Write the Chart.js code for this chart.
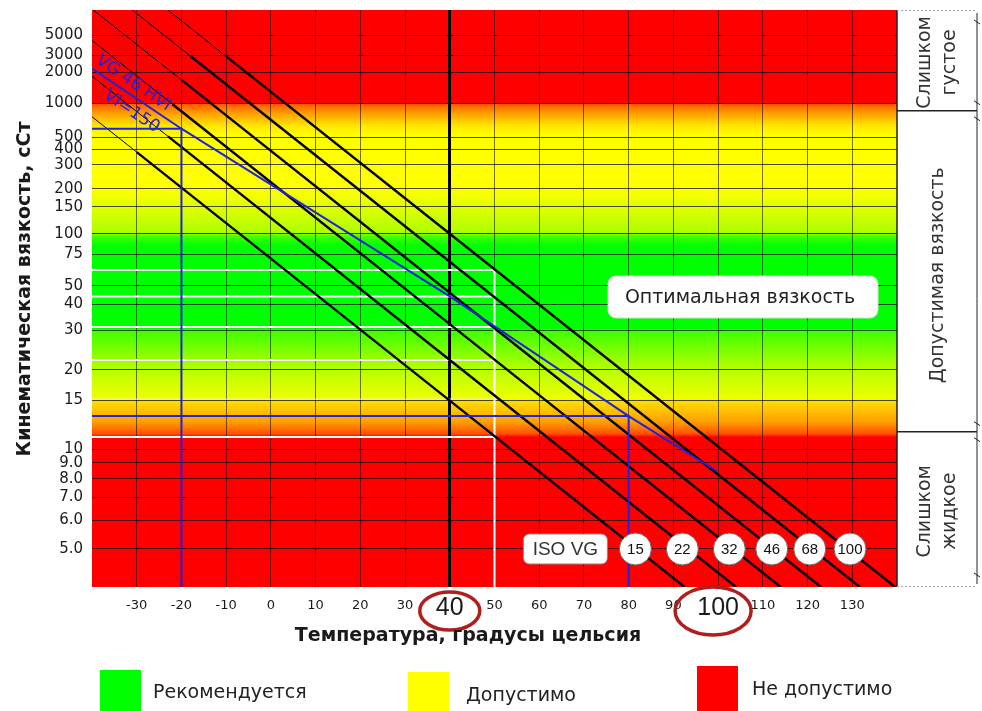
<!DOCTYPE html>
<html>
<head>
<meta charset="utf-8">
<script src="https://cdn.jsdelivr.net/npm/chart.js@4.4.1/dist/chart.umd.min.js"></script>
<style>
  html, body { margin: 0; padding: 0; background: #fff; }
  #c { display: block; }
</style>
</head>
<body>
<canvas id="c" width="982" height="711"></canvas>
<script>
// ---- Temperature axis, °C ----
const tempMin = -40;
const tempMax = 140;
const tempStep = 10;
const bigTempTicks = [40, 100];

// ---- Viscosity axis, cSt (Walther scale) ----
const viscMin = 4;
const viscMax = 10000;
const viscTicks = [5, 6, 7, 8, 9, 10, 15, 20, 30, 40, 50, 75, 100, 150, 200, 300, 400, 500, 1000, 2000, 3000, 5000];

// ---- ISO VG grade lines: [temperature, viscosity] — start, change to bold, 40 °C, end ----
const isoGrades = ['15', '22', '32', '46', '68', '100'];
const vg15 = [[-40, 750], [-30, 378], [40, 15], [92.5, 4]];
const vg22 = [[-40, 1820], [-23, 508], [40, 22], [104, 4]];
const vg32 = [[-40, 4370], [-22, 975], [40, 32], [114, 4]];
const vg46 = [[-39.7, 10000], [-20, 1670], [40, 46], [123, 4]];
const vg68 = [[-31, 10000], [-18, 2950], [40, 68], [131.7, 4]];
const vg100 = [[-23, 10000], [-10, 2920], [40, 100], [139.6, 4]];
// where each grade's label sits (temperature at 5 cSt)
const gradeLabelTemps = [81.5, 92, 102.5, 112, 120.5, 129.5];
const gradeLabelVisc = 5;

// ---- VG 46 HVI oil, VI = 150 ----
const hviOil = [[-40, 2180], [-20, 590], [40, 44], [80, 13.1], [100, 8.4]];
const hviColdTemp = -20, hviColdVisc = 590;
const hviHotTemp = 80, hviHotVisc = 13.1;

// ---- Viscosity of each grade at 50 °C ----
const checkTemp = 50;
const visc50 = [61, 44, 31, 22, 15.2, 11];

// ---- Viscosity zones ----
const zoneStops = [
  [10000, '#ff0000'], [1000, '#ff0000'], [980, '#ff5a00'], [800, '#ffa000'], [620, '#ffe800'], [520, '#ffff00'],
  [200, '#ffff00'], [150, '#e2ff00'], [101, '#acff00'], [97, '#48ff00'], [85, '#00ff00'],
  [30.5, '#00ff00'], [30, '#3cff00'], [20, '#b8ff00'], [15.2, '#f0ff00'], [15, '#ffe000'],
  [12.5, '#ffa000'], [11.3, '#ff5000'], [11, '#ff0000'], [4, '#ff0000']
];
const panelBounds = [850, 11.5];
const panelTexts = [['Слишком', 'густое'], ['Допустимая вязкость'], ['Слишком', 'жидкое']];
const legendItems = [
  ['Рекомендуется', '#00ff00'],
  ['Допустимо', '#ffff00'],
  ['Не допустимо', '#ff0000']
];

// ---- Walther transform: W = log10(log10(v + 0.7)) ----
const walther = v => Math.log10(Math.log10(v + 0.7));
const waltherInv = w => Math.pow(10, Math.pow(10, w)) - 0.7;

class WaltherScale extends Chart.Scale {
  constructor(cfg) {
    super(cfg);
    this._startW = 0;
    this._rangeW = 1;
  }
  parse(raw, index) {
    const v = Chart.LinearScale.prototype.parse.apply(this, [raw, index]);
    return isFinite(v) && v > 0 ? v : null;
  }
  determineDataLimits() {
    this.min = this.options.min;
    this.max = this.options.max;
  }
  buildTicks() {
    return viscTicks.map(v => ({ value: v }));
  }
  configure() {
    super.configure();
    this._startW = walther(this.min);
    this._rangeW = walther(this.max) - this._startW;
  }
  getLabelForValue(v) { return String(v); }
  getPixelForValue(v) {
    return this.getPixelForDecimal((walther(v) - this._startW) / this._rangeW);
  }
  getValueForPixel(p) {
    return waltherInv(this._startW + this.getDecimalForPixel(p) * this._rangeW);
  }
}
WaltherScale.id = 'walther';
WaltherScale.defaults = {};
Chart.register(WaltherScale);

Chart.defaults.font.family = 'DejaVu Sans';

const pts = arr => arr.map(([x, y]) => ({ x, y }));
const BLUE = '#2222dd';

const datasets = [];
// oil curve and its read-off lines
datasets.push({ data: pts(hviOil), borderColor: BLUE, borderWidth: 2 });
datasets.push({ data: pts([[tempMin, hviColdVisc], [hviColdTemp, hviColdVisc], [hviColdTemp, viscMin]]), borderColor: BLUE, borderWidth: 2 });
datasets.push({ data: pts([[tempMin, hviHotVisc], [hviHotTemp, hviHotVisc], [hviHotTemp, viscMin]]), borderColor: BLUE, borderWidth: 2 });
// ISO VG lines: thin at the cold end, bold after
[vg15, vg22, vg32, vg46, vg68, vg100].forEach(line => {
  datasets.push({
    data: pts(line), borderColor: '#000', borderWidth: 2.4,
    segment: { borderWidth: c => c.p0DataIndex === 0 ? 1 : 2.4 }
  });
});
// 50 °C read-off lines
visc50.forEach((v, i) => {
  datasets.push({
    data: pts([[tempMin, v], [checkTemp, v]]),
    borderColor: i === 4 ? 'rgba(235,235,235,0.75)' : '#ffffff',
    borderWidth: i === 4 ? 1.2 : 2
  });
});
datasets.push({ data: pts([[checkTemp, visc50[0]], [checkTemp, viscMin]]), borderColor: '#ffffff', borderWidth: 2 });

const zonePlugin = {
  id: 'zones',
  beforeDraw(chart) {
    const { ctx, chartArea: a, scales: { y } } = chart;
    ctx.save();
    ctx.fillStyle = '#ffffff';
    ctx.fillRect(0, 0, chart.width, chart.height);
    const h = a.bottom - a.top;
    const g = ctx.createLinearGradient(0, a.top, 0, a.bottom);
    zoneStops.forEach(([v, c]) => {
      const off = Math.min(1, Math.max(0, (y.getPixelForValue(v) - a.top) / h));
      g.addColorStop(off, c);
    });
    ctx.fillStyle = g;
    ctx.fillRect(a.left, a.top, a.right - a.left, h);
    ctx.restore();
  }
};

function roundRect(ctx, x, y, w, h, r) {
  ctx.beginPath();
  ctx.moveTo(x + r, y);
  ctx.arcTo(x + w, y, x + w, y + h, r);
  ctx.arcTo(x + w, y + h, x, y + h, r);
  ctx.arcTo(x, y + h, x, y, r);
  ctx.arcTo(x, y, x + w, y, r);
  ctx.closePath();
}

const overlayPlugin = {
  id: 'overlay',
  afterDatasetsDraw(chart) {
    const { ctx, chartArea: a, scales: { x, y } } = chart;
    ctx.save();

    // oil label along its curve
    const p0x = x.getPixelForValue(hviOil[0][0]);
    const p0y = y.getPixelForValue(hviOil[0][1]);
    const ang = 34 * Math.PI / 180;
    ctx.fillStyle = BLUE;
    ctx.font = '17px "DejaVu Sans"';
    ctx.textBaseline = 'alphabetic';
    ctx.textAlign = 'left';
    [['VG 46 HVI', 3, -6], ['VI=150', 11, 29]].forEach(([t, dx, dy]) => {
      ctx.save();
      ctx.translate(p0x + dx, p0y + dy);
      ctx.rotate(ang);
      ctx.fillText(t, 0, 0);
      ctx.restore();
    });

    // optimal viscosity box
    ctx.fillStyle = '#ffffff';
    roundRect(ctx, 608, 276, 270, 42, 8);
    ctx.fill();
    ctx.strokeStyle = '#d8d8d8';
    ctx.lineWidth = 1;
    ctx.stroke();
    ctx.fillStyle = '#222';
    ctx.font = '19px "DejaVu Sans"';
    ctx.textAlign = 'center';
    ctx.textBaseline = 'middle';
    ctx.fillText('Оптимальная вязкость', 740, 298);

    // grade labels
    const gy = y.getPixelForValue(gradeLabelVisc);
    const firstX = x.getPixelForValue(gradeLabelTemps[0]);
    ctx.fillStyle = '#ffffff';
    roundRect(ctx, firstX - 112, gy - 15, 84, 30, 6);
    ctx.fill();
    ctx.strokeStyle = '#8a8a8a';
    ctx.stroke();
    ctx.fillStyle = '#333';
    ctx.font = '19px "Liberation Sans"';
    ctx.fillText('ISO VG', firstX - 70, gy + 1);
    isoGrades.forEach((g, i) => {
      const cx = x.getPixelForValue(gradeLabelTemps[i]);
      ctx.beginPath();
      ctx.arc(cx, gy, 16, 0, Math.PI * 2);
      ctx.fillStyle = '#ffffff';
      ctx.fill();
      ctx.strokeStyle = '#666';
      ctx.lineWidth = 1;
      ctx.stroke();
      ctx.fillStyle = '#111';
      ctx.font = '15px "Liberation Sans"';
      ctx.fillText(g, cx, gy + 1);
    });

    // highlighted temperatures on the axis
    ctx.strokeStyle = '#b01e1e';
    ctx.lineWidth = 3.5;
    [[bigTempTicks[0], 0, 30, 19], [bigTempTicks[1], -5, 38, 24]].forEach(([t, dx, rx, ry]) => {
      ctx.beginPath();
      ctx.ellipse(x.getPixelForValue(t) + dx, a.bottom + 24, rx, ry, 0, 0, Math.PI * 2);
      ctx.stroke();
    });

    // side panel
    const left = a.right, right = 977;
    const b1 = y.getPixelForValue(panelBounds[0]);
    const b2 = y.getPixelForValue(panelBounds[1]);
    ctx.strokeStyle = '#222';
    ctx.lineWidth = 1.5;
    ctx.beginPath();
    ctx.moveTo(left, a.top); ctx.lineTo(left, a.bottom);
    ctx.moveTo(left, b1); ctx.lineTo(right, b1);
    ctx.moveTo(left, b2); ctx.lineTo(right, b2);
    ctx.stroke();
    ctx.lineWidth = 1;
    ctx.beginPath();
    ctx.moveTo(right, a.top + 3); ctx.lineTo(right, a.bottom - 3);
    [a.top + 4, b1, b2, a.bottom - 4].forEach(yy => {
      [-8, 8].forEach(d => {
        if (yy + d > a.top && yy + d < a.bottom) {
          ctx.moveTo(right - 3, yy + d - 2);
          ctx.lineTo(right + 3, yy + d + 2);
        }
      });
    });
    ctx.stroke();
    ctx.strokeStyle = '#aaa';
    ctx.setLineDash([2, 2]);
    ctx.beginPath();
    ctx.moveTo(left, a.top + 0.5); ctx.lineTo(right, a.top + 0.5);
    ctx.moveTo(left, a.bottom - 0.5); ctx.lineTo(right, a.bottom - 0.5);
    ctx.stroke();
    ctx.setLineDash([]);

    ctx.fillStyle = '#333';
    ctx.font = '19px "DejaVu Sans"';
    ctx.textAlign = 'center';
    ctx.textBaseline = 'middle';
    const boxes = [[a.top, b1], [b1, b2], [b2, a.bottom]];
    const mid = (left + right) / 2 + 1;
    boxes.forEach(([t, bt], i) => {
      const lines = panelTexts[i];
      const cy = (t + bt) / 2 + (i === 1 ? 4 : 2);
      lines.forEach((txt, k) => {
        const cx = mid + (k - (lines.length - 1) / 2) * 25;
        ctx.save();
        ctx.translate(cx, cy);
        ctx.rotate(-Math.PI / 2);
        ctx.fillText(txt, 0, 0);
        ctx.restore();
      });
    });

    // axis titles
    ctx.fillStyle = '#1a1a1a';
    ctx.font = 'bold 19px "DejaVu Sans"';
    ctx.fillText('Температура, градусы цельсия', 468, 636);
    ctx.save();
    ctx.translate(25, 289);
    ctx.rotate(-Math.PI / 2);
    ctx.fillText('Кинематическая вязкость, сСт', 0, 0);
    ctx.restore();

    // legend
    const legendPos = [[100, 670, 153, 693], [408, 672, 466, 696], [697, 666, 752, 690]];
    ctx.font = '19px "DejaVu Sans"';
    ctx.textAlign = 'left';
    legendItems.forEach(([label, color], i) => {
      const [bx, by, tx, ty] = legendPos[i];
      ctx.fillStyle = color;
      ctx.fillRect(bx, by, 41, chart.height - by);
      ctx.fillStyle = '#222';
      ctx.fillText(label, tx, ty);
    });

    ctx.restore();
  }
};

// scale edge paddings are not wanted: the plot area is fixed by the layout padding
const noEdgePadding = s => {
  s.paddingTop = 0; s.paddingBottom = 0; s.paddingLeft = 0; s.paddingRight = 0;
};

new Chart(document.getElementById('c'), {
  type: 'line',
  data: { datasets },
  options: {
    responsive: false,
    animation: false,
    devicePixelRatio: 1,
    layout: { padding: { left: 0, right: 85, top: 10, bottom: 94 } },
    elements: { point: { radius: 0, hoverRadius: 0 }, line: { tension: 0 } },
    plugins: { legend: { display: false }, tooltip: { enabled: false } },
    events: [],
    scales: {
      x: {
        type: 'linear',
        min: tempMin,
        max: tempMax,
        afterFit: s => { s.height = 30; noEdgePadding(s); },
        border: { display: false },
        grid: {
          drawTicks: false,
          color: c => {
            const v = c.tick.value;
            if (v === tempMin || v === tempMax) return 'rgba(0,0,0,0)';
            return v === 40 ? '#000' : 'rgba(0,0,0,0.55)';
          },
          lineWidth: c => c.tick.value === 40 ? 3 : 1
        },
        ticks: {
          stepSize: tempStep,
          autoSkip: false,
          maxRotation: 0,
          padding: 11,
          color: '#1a1a1a',
          font: c => (c.tick && bigTempTicks.includes(c.tick.value))
            ? { family: 'Liberation Sans', size: 25, lineHeight: 0.8 }
            : { family: 'DejaVu Sans', size: 13 },
          callback: v => (v === tempMin || v === tempMax) ? '' : String(v)
        }
      },
      y: {
        type: 'walther',
        position: 'left',
        min: viscMin,
        max: viscMax,
        afterFit: s => { s.width = 92; noEdgePadding(s); },
        border: { display: false },
        grid: { drawTicks: false, color: 'rgba(0,0,0,0.7)', lineWidth: 1 },
        ticks: {
          autoSkip: false,
          padding: 9,
          color: '#1a1a1a',
          font: { family: 'DejaVu Sans', size: 15 },
          callback: v => v < 10 ? v.toFixed(1) : String(v)
        }
      }
    }
  },
  plugins: [zonePlugin, overlayPlugin]
});
</script>
</body>
</html>
